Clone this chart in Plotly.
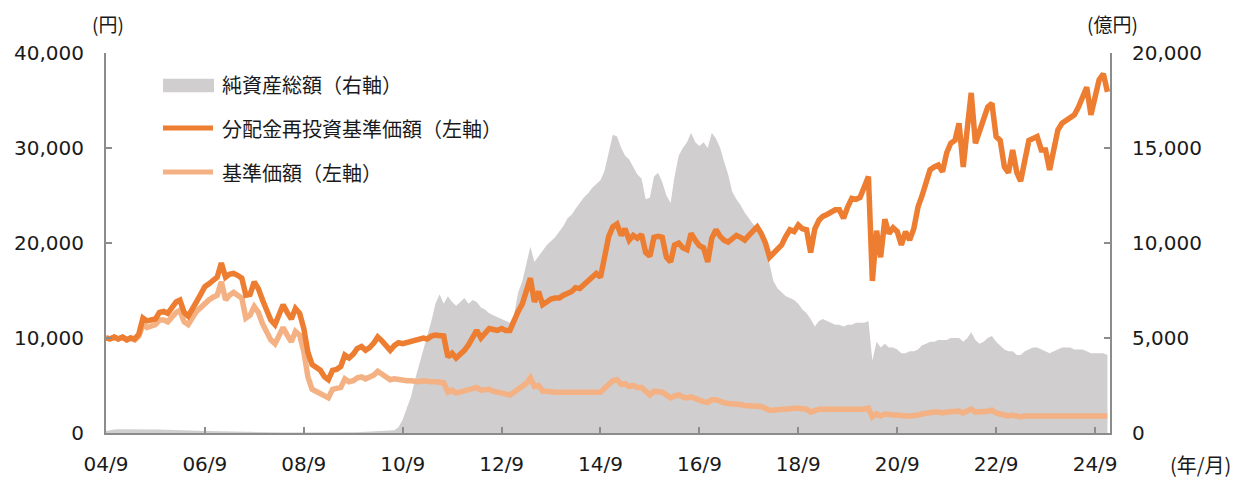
import pandas as pd
import plotly.graph_objects as go

# ---- data (monthly) ----
dates = pd.date_range("2004-09-01", "2024-12-01", freq="MS")

nav_reinvested = [
    10000, 9900, 10100, 9900,
    10100, 9800, 10000, 9900, 10400, 12100, 11800, 11900, 12000, 12700, 12800, 12600,
    13200, 13800, 14000, 12700, 12300, 13200, 13800, 14600, 15400, 15700, 16100, 16400,
    17900, 16400, 16700, 16800, 16600, 16300, 14500, 14600, 15900, 15200, 14000, 12900,
    11900, 11400, 12500, 13500, 12700, 12000, 13100, 12600, 11000, 8500, 7200, 6900,
    6600, 5900, 5600, 6600, 6700, 7000, 8200, 7900, 8300, 8900, 9100, 8700,
    9000, 9500, 10100, 9700, 9100, 8700, 9200, 9500, 9400, 9500, 9600, 9700,
    9800, 10000, 9900, 10200, 10300, 10300, 10200, 8000, 8400, 7900, 8300, 8700,
    9300, 10000, 10800, 10000, 10400, 11000, 10900, 10800, 11000, 10800, 10800, 11900,
    12800, 13600, 14800, 16300, 13800, 14900, 13500, 13800, 14100, 14200, 14200, 14500,
    14700, 14900, 15300, 15200, 15600, 16100, 16400, 16800, 16400, 18500, 20700, 21700,
    22000, 20800, 21500, 20300, 20800, 20500, 20900, 19000, 18600, 20600, 20700, 20600,
    18500, 18000, 19800, 20000, 19500, 19300, 21000, 20300, 19700, 19500, 18000, 20500,
    21400, 20700, 20300, 20100, 20500, 20800, 20600, 20300, 20800, 21300, 21700, 21000,
    20000, 18500, 18900, 19400, 19800, 20700, 21400, 21200, 21900, 21500, 21400, 19000,
    21500, 22400, 22800, 23000, 23200, 23500, 23500, 22600, 23800, 24700, 24600, 24800,
    25900, 27000, 16000, 21300, 18500, 22500, 21000, 21600, 21200, 19800, 21200, 20300,
    21500, 23800, 24900, 26600, 27700, 28000, 28200, 27500, 29500, 30500, 30800, 32600,
    28000, 32200, 35800, 30500, 31800, 33000, 34300, 34700, 31200, 30800, 28000, 27400,
    29800, 27400, 26500, 28700, 30800, 31000, 31200, 29800, 29800, 27700, 29800, 31900,
    32600, 32900, 33300, 33500, 34300, 35500, 36400, 33500, 35400, 37200, 37800, 35900,
]

nav = [
    10000, 9900, 10100, 9900,
    10100, 9800, 10000, 9800, 10200, 11400, 11100, 11300, 11400, 11900, 11900, 11700,
    12200, 12700, 12900, 11700, 11400, 12100, 12800, 13200, 13700, 14000, 14300, 14500,
    15900, 14000, 14500, 14800, 14500, 14200, 12100, 12400, 13300, 12700, 11500, 10600,
    9800, 9400, 10300, 11100, 10300, 9600, 10700, 10300, 8600, 5900, 4600, 4400,
    4200, 3900, 3700, 4600, 4700, 4800, 5700, 5400, 5500, 5800, 5900, 5700,
    5900, 6100, 6500, 6200, 5800, 5600, 5700, 5600, 5600, 5500, 5500, 5400,
    5400, 5500, 5400, 5400, 5400, 5300, 5300, 4300, 4500, 4200, 4300, 4400,
    4500, 4600, 4800, 4500, 4500, 4600, 4400, 4300, 4300, 4200, 4000, 4300,
    4600, 4800, 5200, 5800, 4900, 5000, 4400, 4400, 4300, 4300, 4300, 4300,
    4300, 4300, 4300, 4300, 4300, 4300, 4300, 4400, 4300, 4700, 5200, 5500,
    5600, 5100, 5200, 4900, 5000, 4800, 4800, 4300, 4000, 4400, 4300, 4300,
    4000, 3700, 3900, 4000, 3800, 3700, 3800, 3600, 3400, 3300, 3200, 3500,
    3500, 3300, 3200, 3100, 3100, 3000, 3000, 2900, 2900, 2900, 2800, 2800,
    2600, 2400, 2400, 2500, 2500, 2500, 2600, 2600, 2600, 2500, 2500, 2200,
    2400, 2500, 2500, 2500, 2500, 2500, 2500, 2400, 2500, 2500, 2500, 2500,
    2500, 2600, 1700, 2000, 1800, 2000, 1900, 1900, 1900, 1800, 1800, 1800,
    1800, 1900, 2000, 2100, 2100, 2200, 2200, 2100, 2200, 2200, 2300, 2300,
    2100, 2300, 2500, 2200, 2200, 2300, 2300, 2400, 2100, 2000, 1900, 1800,
    1900, 1800, 1700, 1800, 1800, 1800, 1800, 1800, 1800, 1700, 1700, 1800,
    1800, 1800, 1800, 1800, 1800, 1800, 1800, 1700, 1800, 1800, 1800, 1800,
]

net_assets = [
    100, 150, 180, 200,
    200, 210, 220, 220, 220, 210, 200, 200, 190, 180, 170, 160,
    150, 150, 140, 140, 130, 130, 120, 120, 110, 110, 100, 100,
    90, 90, 80, 80, 70, 70, 60, 60, 50, 50, 40, 40,
    30, 30, 30, 20, 20, 20, 20, 20, 20, 10, 10, 10,
    10, 10, 10, 10, 20, 20, 30, 30, 40, 40, 50, 60,
    60, 70, 80, 90, 100, 120, 150, 300, 700, 1300, 1900, 2800,
    3600, 4400, 5000, 5900, 6800, 7300, 6800, 7200, 6900, 6700, 6900, 7100,
    6800, 7000, 6900, 6600, 6500, 6300, 6200, 6100, 6000, 5900, 5800, 6200,
    7400, 8000, 8900, 9800, 9000, 9300, 9600, 9900, 10100, 10300, 10600, 10900,
    11300, 11500, 11800, 12100, 12400, 12600, 12900, 13100, 13300, 13800, 14800, 15700,
    15600, 15000, 14600, 14400, 14000, 13600, 13400, 12300, 12400, 13500, 13700, 13200,
    12500, 12100, 13500, 14600, 15000, 15300, 15800, 15300, 15100, 15300, 15000, 15800,
    15500, 15000, 14300, 13600, 12700, 12300, 12000, 11600, 11300, 11000, 10800, 10300,
    9800, 8900, 8000, 7600, 7400, 7200, 7100, 7000, 6800, 6500, 6300, 6000,
    5600, 5900, 6000, 5900, 5800, 5700, 5700, 5600, 5700, 5700, 5800, 5800,
    5800, 5900, 3800, 4800, 4500, 4700, 4500, 4500, 4400, 4200, 4200, 4300,
    4300, 4400, 4600, 4700, 4800, 4800, 4900, 4900, 4900, 5000, 5000, 5000,
    4800, 5000, 5300, 4900, 4700, 4800, 5000, 5100, 4800, 4600, 4400, 4300,
    4300, 4100, 4100, 4300, 4400, 4500, 4500, 4400, 4300, 4200, 4300, 4400,
    4500, 4500, 4500, 4400, 4400, 4400, 4300, 4200, 4200, 4200, 4200, 4100,
]

x_tick_vals = ["2004-09-01", "2006-09-01", "2008-09-01", "2010-09-01", "2012-09-01",
               "2014-09-01", "2016-09-01", "2018-09-01", "2020-09-01", "2022-09-01",
               "2024-09-01"]
x_tick_text = ["04/9", "06/9", "08/9", "10/9", "12/9", "14/9", "16/9", "18/9",
               "20/9", "22/9", "24/9"]

legend_labels = ["純資産総額（右軸）", "分配金再投資基準価額（左軸）", "基準価額（左軸）"]

# ---- styles ----
GRAY_FILL = "#D0CECF"
DARK_OR = "#ED7D31"
LIGHT_OR = "#F4B183"
AXIS_COL = "#8C8C8C"
TXT = "#1A1A1A"
NUM_FONT = "DejaVu Sans, Noto Sans CJK JP, sans-serif"
CJK_FONT = "Noto Sans CJK JP, DejaVu Sans, sans-serif"

fig = go.Figure()
fig.add_trace(go.Scatter(x=dates, y=net_assets, mode="lines", fill="tozeroy",
                         fillcolor=GRAY_FILL, line=dict(width=0, color=GRAY_FILL),
                         yaxis="y", name=legend_labels[0], showlegend=False))
fig.add_trace(go.Scatter(x=dates, y=nav, mode="lines",
                         line=dict(width=5.5, color=LIGHT_OR),
                         yaxis="y2", name=legend_labels[2], showlegend=False))
fig.add_trace(go.Scatter(x=dates, y=nav_reinvested, mode="lines",
                         line=dict(width=5.5, color=DARK_OR),
                         yaxis="y2", name=legend_labels[1], showlegend=False))

axis_common = dict(showgrid=False, zeroline=False, showline=True, linecolor=AXIS_COL,
                   linewidth=2, ticks="inside", ticklen=6, tickwidth=2,
                   tickcolor=AXIS_COL, automargin=False,
                   tickfont=dict(family=NUM_FONT, size=20, color=TXT))

# page body has an 8px default margin, so the figure is offset to compensate
fig.update_layout(
    width=1245, height=472,
    margin=dict(l=98, r=143, t=45, b=47, autoexpand=False),
    paper_bgcolor="white", plot_bgcolor="white",
    showlegend=False,
    xaxis=dict(type="date", range=["2004-09-01", "2024-12-20"],
               tickmode="array", tickvals=x_tick_vals, ticktext=x_tick_text,
               ticklabelstandoff=12, **axis_common),
    yaxis=dict(side="right", range=[0, 20000], tickmode="linear", tick0=0, dtick=5000,
               tickformat=",d", ticklabelstandoff=16, **axis_common),
    yaxis2=dict(side="left", overlaying="y", range=[0, 40000], tickmode="linear",
                tick0=0, dtick=10000, tickformat=",d", ticklabelstandoff=16,
                **axis_common),
)

# unit labels
top_edge = 1 + 45 / 380 - 0.001
fig.add_annotation(text="(円)", x=0.002, y=top_edge, xref="paper", yref="paper",
                   showarrow=False, xanchor="center", yanchor="top",
                   font=dict(family=CJK_FONT, size=19, color=TXT))
fig.add_annotation(text="(億円)", x=1.002, y=top_edge, xref="paper", yref="paper",
                   showarrow=False, xanchor="center", yanchor="top",
                   font=dict(family=CJK_FONT, size=19, color=TXT))
fig.add_annotation(text="(年/月)", x=1.0906, y=-0.084, xref="paper", yref="paper",
                   showarrow=False, xanchor="center", yanchor="middle",
                   font=dict(family=CJK_FONT, size=20, color=TXT))

# custom legend
lx0, lx1, ltx = 0.0568, 0.1066, 0.1135
fig.add_shape(type="rect", xref="paper", yref="paper", x0=lx0, x1=0.1076,
              y0=0.897, y1=0.932, fillcolor=GRAY_FILL, line=dict(width=0))
fig.add_shape(type="line", xref="paper", yref="paper", x0=lx0, x1=lx1,
              y0=0.8026, y1=0.8026, line=dict(color=DARK_OR, width=5))
fig.add_shape(type="line", xref="paper", yref="paper", x0=lx0, x1=lx1,
              y0=0.6868, y1=0.6868, line=dict(color=LIGHT_OR, width=5))
for label, yy in zip(legend_labels, [0.9158, 0.8026, 0.6868]):
    fig.add_annotation(text=label, x=ltx, y=yy, xref="paper", yref="paper",
                       showarrow=False, xanchor="left", yanchor="middle",
                       font=dict(family=CJK_FONT, size=20, color=TXT))

fig.write_html("out.html")
